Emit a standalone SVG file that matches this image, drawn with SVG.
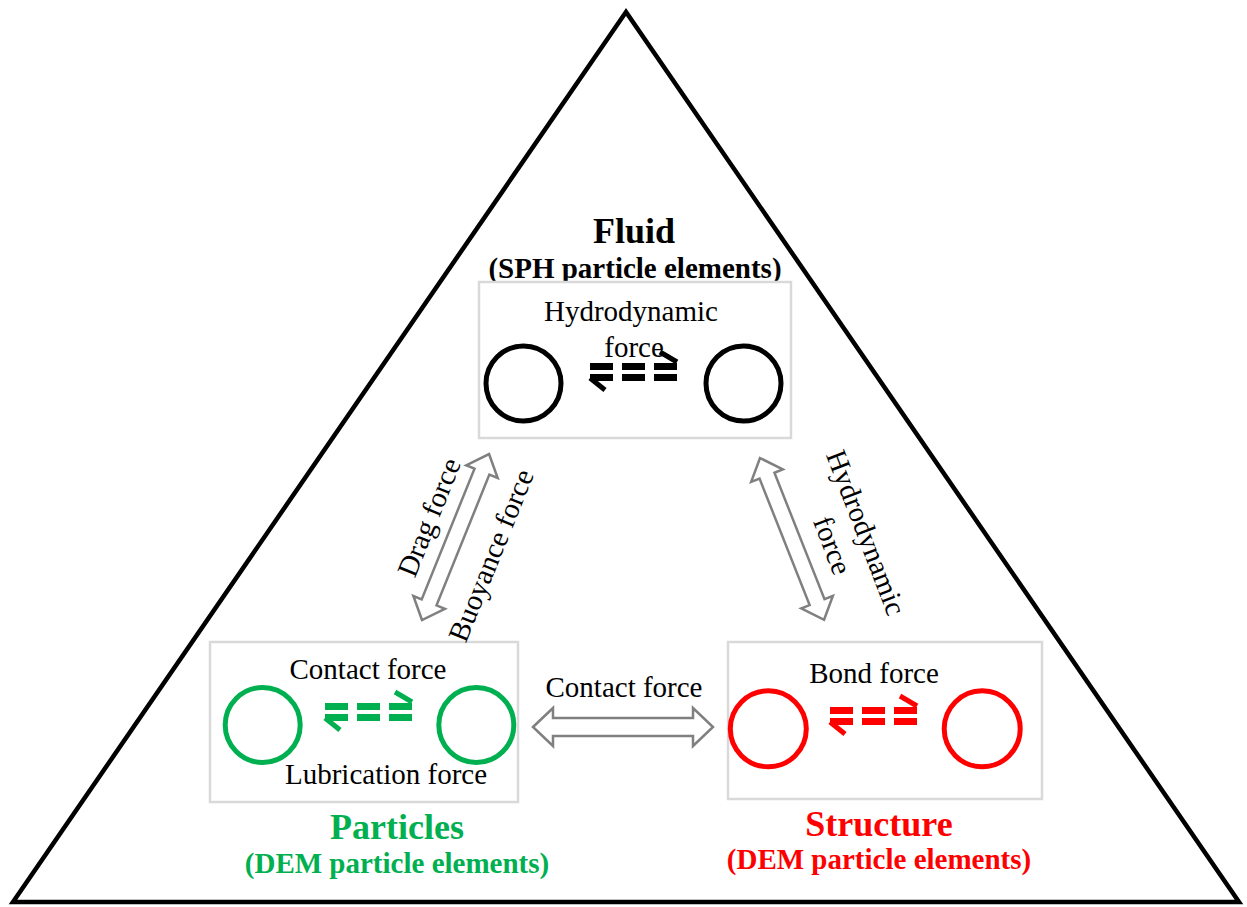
<svg xmlns="http://www.w3.org/2000/svg" xmlns:xlink="http://www.w3.org/1999/xlink" width="1247" height="907" viewBox="0 0 1247 907">
<style>
text{font-family:"Liberation Serif","Times New Roman",serif;}
.lbl{font-size:29px;fill:#000;text-anchor:middle;}
.title{font-size:36px;font-weight:bold;text-anchor:middle;}
.sub{font-size:29px;font-weight:bold;text-anchor:middle;}
.box{fill:#fff;stroke:#d9d9d9;stroke-width:2.5;}
.circ{fill:none;stroke-width:5;}
.harrow{fill:#fff;stroke:#808080;stroke-width:2.5;stroke-linejoin:miter;}
</style>
<defs>
<g id="equil">
<rect x="0" y="0" width="23" height="7" fill="currentColor"/>
<rect x="32" y="0" width="23" height="7" fill="currentColor"/>
<rect x="64" y="0" width="23" height="7" fill="currentColor"/>
<rect x="0" y="11" width="23" height="7" fill="currentColor"/>
<rect x="32" y="11" width="23" height="7" fill="currentColor"/>
<rect x="64" y="11" width="23" height="7" fill="currentColor"/>
<line x1="70" y1="-11" x2="87" y2="-1" stroke="currentColor" stroke-width="5"/>
<line x1="0" y1="15" x2="15" y2="27" stroke="currentColor" stroke-width="5"/>
</g>
</defs>
<rect width="1247" height="907" fill="#fff"/>
<polygon id="triangle" points="626,12 13,902 1239,902" fill="none" stroke="#000" stroke-width="4.5"/>

<g id="fluid">
<text class="title" x="634" y="243" fill="#000">Fluid</text>
<text class="sub" x="635" y="278" fill="#000">(SPH particle elements)</text>
<rect class="box" x="479" y="282" width="312" height="156"/>
<text class="lbl" x="631" y="321">Hydrodynamic</text>
<text class="lbl" x="634" y="357">force</text>
<circle class="circ" cx="523.5" cy="383.5" r="37.5" stroke="#000"/>
<circle class="circ" cx="743.5" cy="383.5" r="37.5" stroke="#000"/>
<use xlink:href="#equil" x="590" y="363" style="color:#000"/>
</g>

<g id="particles">
<rect class="box" x="210" y="642" width="308" height="160"/>
<text class="lbl" x="368" y="679">Contact force</text>
<text class="lbl" x="386" y="784">Lubrication force</text>
<circle class="circ" cx="262.7" cy="725" r="37.5" stroke="#00b050"/>
<circle class="circ" cx="476.3" cy="725" r="37.5" stroke="#00b050"/>
<use xlink:href="#equil" x="325" y="703" style="color:#00b050"/>
<text class="title" x="397" y="839" fill="#00b050">Particles</text>
<text class="sub" x="397" y="873" fill="#00b050">(DEM particle elements)</text>
</g>

<g id="structure">
<rect class="box" x="728" y="642" width="314" height="157"/>
<text class="lbl" x="874" y="683">Bond force</text>
<circle class="circ" cx="768.3" cy="728.8" r="38" stroke="#ff0000"/>
<circle class="circ" cx="982.2" cy="728.8" r="38" stroke="#ff0000"/>
<use xlink:href="#equil" x="830" y="707" style="color:#ff0000"/>
<text class="title" x="879" y="836" fill="#ff0000">Structure</text>
<text class="sub" x="879" y="869" fill="#ff0000">(DEM particle elements)</text>
</g>

<g id="connectors">
<path class="harrow" transform="translate(533,727)" d="M0,0 L20,-19 L20,-9 L160,-9 L160,-19 L180,0 L160,19 L160,9 L20,9 L20,19 Z"/>
<text class="lbl" x="624" y="697">Contact force</text>
<path class="harrow" transform="translate(422,620) rotate(-68)" d="M0,0 L19,-17 L19,-8 L160,-8 L160,-17 L179,0 L160,17 L160,8 L19,8 L19,17 Z"/>
<text class="lbl" transform="translate(438,521) rotate(-68)" x="0" y="0">Drag force</text>
<text class="lbl" transform="translate(500,559) rotate(-68)" x="0" y="0">Buoyance force</text>
<path class="harrow" transform="translate(760,458) rotate(68.4)" d="M0,0 L19,-17 L19,-8 L155,-8 L155,-17 L174,0 L155,17 L155,8 L19,8 L19,17 Z"/>
<g transform="translate(857,536) rotate(69)">
<text class="lbl" x="0" y="0">Hydrodynamic</text>
<text class="lbl" x="0" y="36">force</text>
</g>
</g>
</svg>
